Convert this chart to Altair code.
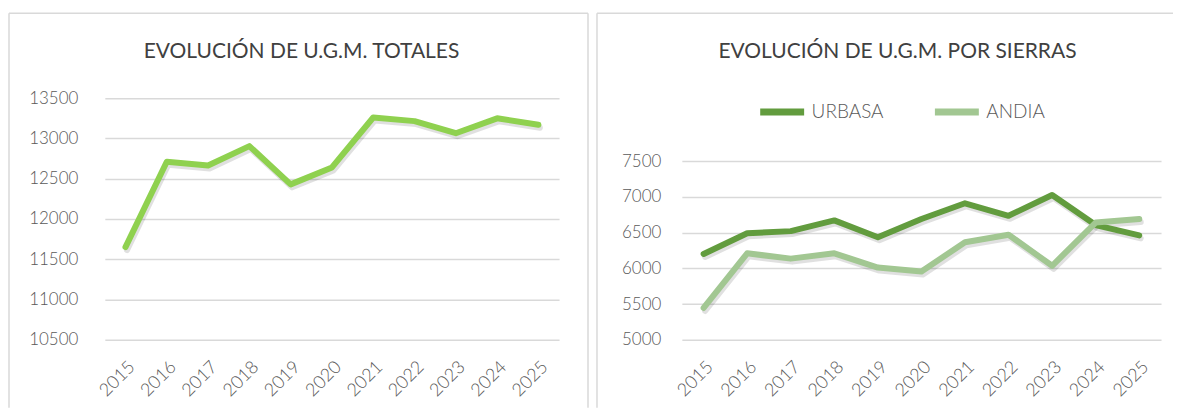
import altair as alt
import pandas as pd

years = ["2015", "2016", "2017", "2018", "2019", "2020", "2021", "2022", "2023", "2024", "2025"]
total = [11650, 12710, 12665, 12905, 12430, 12640, 13260, 13215, 13065, 13250, 13170]
urbasa = [6200, 6490, 6520, 6670, 6435, 6690, 6910, 6735, 7025, 6605, 6460]
andia = [5445, 6210, 6135, 6210, 6010, 5955, 6365, 6470, 6035, 6640, 6690]
series = ["URBASA", "ANDIA"]
titles = ["EVOLUCIÓN DE U.G.M. TOTALES", "EVOLUCIÓN DE U.G.M. POR SIERRAS"]
left_ticks = [10500, 11000, 11500, 12000, 12500, 13000, 13500]
right_ticks = [5000, 5500, 6000, 6500, 7000, 7500]

df_total = pd.DataFrame({"year": years, "value": total})
df_sierras = pd.DataFrame({
    "year": years * 2,
    "serie": [series[0]] * len(years) + [series[1]] * len(years),
    "value": urbasa + andia,
})

FONT = "Lato"
GRID = "#d9d9d9"
LABEL = "#595959"
TITLE = "#404040"
one = alt.Data(values=[{"k": 1}])
noview = alt.ViewBackground(stroke="transparent", strokeWidth=0, strokeOpacity=0)


def frame(xl, xr, yt, yb, right_edge):
    base = alt.Chart(one)
    st = dict(color=GRID, strokeWidth=1.5)
    layers = [
        base.mark_rule(**st).encode(x=alt.value(xl), x2=alt.value(xr), y=alt.value(yt)),
        base.mark_rule(**st).encode(x=alt.value(xl), y=alt.value(yt), y2=alt.value(yb)),
    ]
    if right_edge:
        layers.append(base.mark_rule(**st).encode(x=alt.value(xr), y=alt.value(yt), y2=alt.value(yb)))
    return layers


def title_mark(text, cx, by):
    return alt.Chart(one).mark_text(font=FONT, fontSize=21, color=TITLE, align="center",
                                    baseline="alphabetic").encode(
        x=alt.value(cx), y=alt.value(by), text=alt.value(text))


def x_enc():
    return alt.X("year:O", title=None, sort=years,
                 axis=alt.Axis(labelAngle=-45, labelFont=FONT, labelFontSize=18, labelFontWeight=300,
                               labelColor=LABEL, ticks=False, domain=False, grid=False, labelPadding=18))


def y_enc(domain, ticks, pad):
    return alt.Y("value:Q", title=None, scale=alt.Scale(domain=domain, nice=False, zero=False),
                 axis=alt.Axis(values=ticks, grid=True, gridColor=GRID, gridWidth=1.5, ticks=False,
                               domain=False, labelPadding=pad, labelFont=FONT, labelFontSize=17,
                               labelFontWeight=300, labelColor=LABEL, format="d"))


# Left panel
lw, lh = 455, 242
left_shadow = alt.Chart(df_total).mark_line(color="black", strokeOpacity=0.12, strokeWidth=6,
                                            yOffset=3, xOffset=1.5, strokeCap="round", strokeJoin="round").encode(
    x=x_enc(), y=y_enc([10500, 13500], left_ticks, 27))
left_line = alt.Chart(df_total).mark_line(color="#8FD14F", strokeWidth=6, strokeCap="round",
                                          strokeJoin="round").encode(
    x=x_enc(), y=y_enc([10500, 13500], left_ticks, 27))
left = alt.layer(*frame(-96, 484, -85, 310, True), title_mark(titles[0], 197, -40),
                 left_shadow, left_line).properties(width=lw, height=lh, view=noview)

# Right panel
rw, rh = 480, 242
rdom = [5000, 8380]
right_shadow = alt.Chart(df_sierras).mark_line(color="black", strokeOpacity=0.12, strokeWidth=6,
                                               yOffset=3, xOffset=1.5, strokeCap="round", strokeJoin="round").encode(
    x=x_enc(), y=y_enc(rdom, right_ticks, 21), detail="serie:N")
right_line = alt.Chart(df_sierras).mark_line(strokeWidth=6, strokeCap="round", strokeJoin="round").encode(
    x=x_enc(), y=y_enc(rdom, right_ticks, 21),
    color=alt.Color("serie:N", sort=series,
                    scale=alt.Scale(domain=series, range=["#629C3E", "#A2C792"]),
                    legend=alt.Legend(orient="none", legendX=75, legendY=-12, direction="horizontal",
                                      title=None, symbolType="stroke", symbolStrokeWidth=7,
                                      symbolSize=1936, labelFont=FONT, labelFontSize=19,
                                      labelFontWeight=300, labelColor=LABEL, columnPadding=36,
                                      labelOffset=4)))
right = alt.layer(*frame(-85, 492, -85, 310, False), title_mark(titles[1], 216, -40),
                  right_shadow, right_line).properties(width=rw, height=rh, view=noview)

chart = alt.hconcat(left, right, spacing=7).resolve_scale(
    color="independent", x="independent", y="independent"
).resolve_legend(color="independent").properties(
    padding={"left": 0, "top": 4, "right": 0, "bottom": 0}
).configure_view(stroke="transparent", strokeWidth=0).configure(background="white")

chart.save("out.html", embed_options={"renderer": "svg", "actions": False})
